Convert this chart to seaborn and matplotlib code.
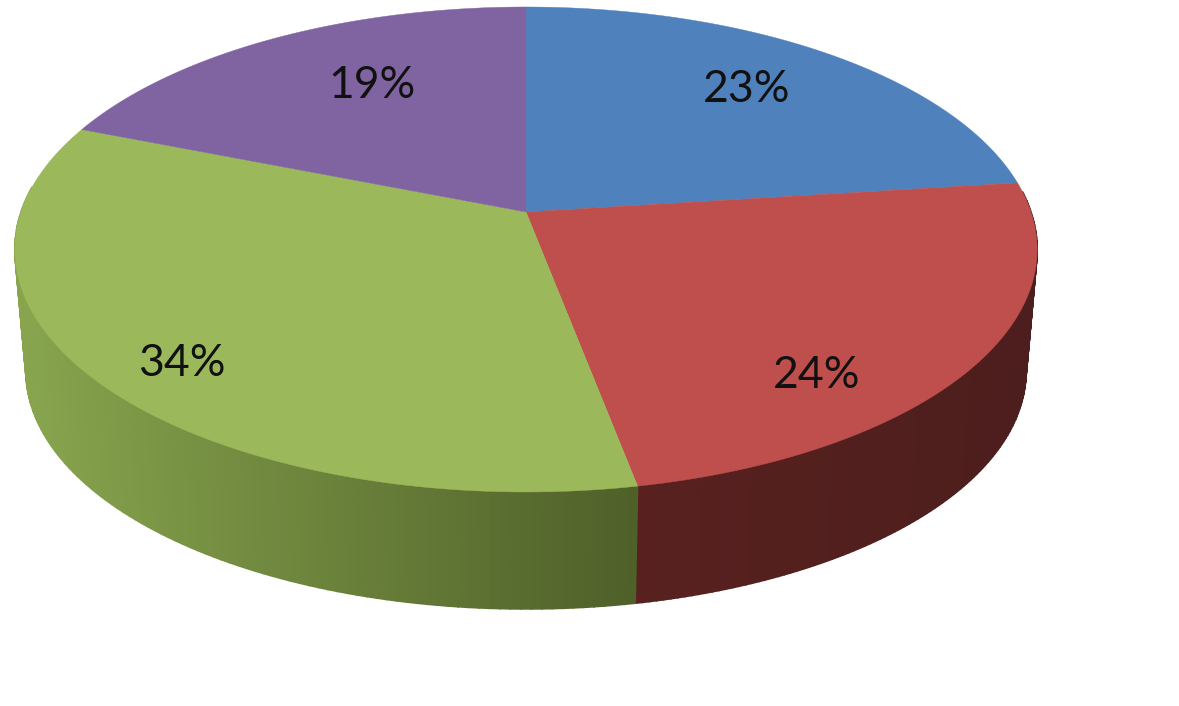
import matplotlib
matplotlib.use("Agg")
import matplotlib.pyplot as plt
import numpy as np
import seaborn as sns

# slices, clockwise from 12 o'clock
shares = [23, 24, 34, 19]
top_colors = ["#4f81bd", "#bf4f4c", "#9bb95a", "#8064a2"]
wall_left = ["#2f4d71", "#58211f", "#88a54e", "#4c3c61"]
wall_right = ["#2a4566", "#4c1e1d", "#4f6029", "#443657"]
labels = ["23%", "24%", "34%", "19%"]

# label centres in pixels
label_x = [747, 817, 182, 372]
label_y = [90, 375, 363, 86]

# perspective of the disc, in pixels
center_x = 526
top_apex_y = 212
bottom_apex_y = 334.5
top_rx, top_ry = 505, 236.7
bottom_rx, bottom_ry = 494, 232
tilt = 0.1546


def project(theta, apex_y, rx, ry):
    x = np.sin(theta)
    y = np.cos(theta)
    w = 1 + tilt * y
    return center_x + rx * x / w, apex_y - ry * y / w


sns.set_theme(style="white")
plt.rcParams["font.family"] = ["Lato", "DejaVu Sans"]

fig = plt.figure(figsize=(11.79, 7.06), dpi=100)
ax = fig.add_axes([0, 0, 1, 1])
ax.set_xlim(0, 1179)
ax.set_ylim(706, 0)
ax.axis("off")

edges = np.cumsum([0] + shares) / sum(shares) * 2 * np.pi

# side wall first, the top covers the hidden part
for i in range(len(shares)):
    theta = np.linspace(edges[i], edges[i + 1], 120)
    tx, ty = project(theta, top_apex_y, top_rx, top_ry)
    bx, by = project(theta, bottom_apex_y, bottom_rx, bottom_ry)
    palette = sns.blend_palette([wall_left[i], wall_right[i]], 256)
    pos = (tx - tx.min()) / (tx.max() - tx.min())
    for j in range(len(theta) - 1):
        # back of the disc can't be seen, and would peek out round the rim
        if np.cos(theta[j]) > 0.1:
            continue
        color = palette[int(pos[j] * 255)]
        ax.fill(
            [tx[j], tx[j + 1], bx[j + 1], bx[j]],
            [ty[j], ty[j + 1], by[j + 1], by[j]],
            color=color,
            lw=1.2,
            zorder=1 + i * 0.01,
        )

# top of the disc
for i in range(len(shares)):
    theta = np.linspace(edges[i], edges[i + 1], 200)
    tx, ty = project(theta, top_apex_y, top_rx, top_ry)
    ax.fill(
        np.r_[center_x, tx],
        np.r_[top_apex_y, ty],
        color=top_colors[i],
        lw=0.3,
        zorder=3,
    )

for i in range(len(labels)):
    ax.text(
        label_x[i],
        label_y[i],
        labels[i],
        ha="center",
        va="center",
        fontsize=32,
        color="#111111",
        zorder=4,
    )

fig.savefig("out.png", dpi=100, facecolor="white")
